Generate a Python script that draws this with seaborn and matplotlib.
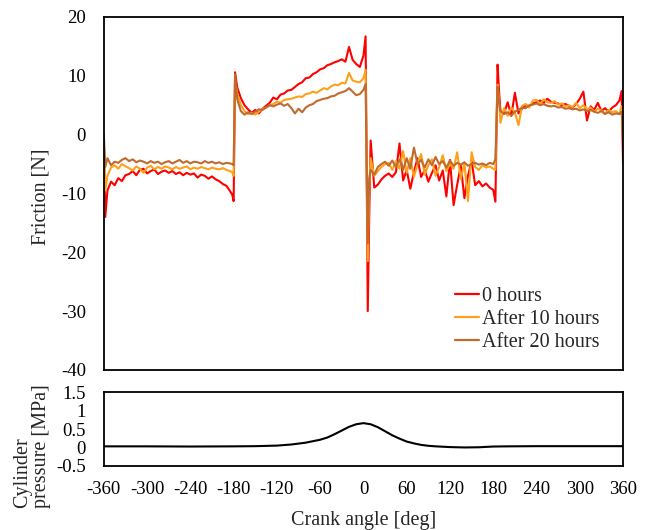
import numpy as np
import pandas as pd
import matplotlib
matplotlib.use("Agg")
import matplotlib.pyplot as plt
import seaborn as sns

# Crank angle samples [deg] (denser around the dead centres)
crank_angle = np.r_[[-360, -358], np.arange(-355, -184, 5), [-182, -180, -178],
                    np.arange(-175, 1, 5), [3, 6, 8], np.arange(10, 181, 5),
                    [183, 186, 188], np.arange(190, 356, 5), [358, 360]]

friction_0h = [
    -1.0, -14.0, -9.5, -8.0, -8.6, -7.4, -7.9, -6.9, -6.7, -6.2, -6.9, -6.0, -5.8, -6.6,
    -6.2, -5.9, -6.7, -6.3, -6.1, -6.5, -6.2, -6.7, -6.4, -6.9, -6.5, -6.8, -6.6, -7.3,
    -6.8, -7.0, -7.5, -7.1, -7.6, -7.9, -8.4, -8.7, -9.6,
    -10.2, -11.3, 10.6,
    8.0, 6.2, 5.0, 4.3, 3.7, 4.2, 3.6, 4.4, 4.9, 5.4, 6.3, 6.0, 6.8, 7.0, 7.5, 7.6, 8.1,
    8.6, 8.9, 9.6, 9.7, 10.3, 10.6, 11.1, 11.3, 11.8, 12.0, 12.3, 12.5, 12.8, 12.4, 14.9,
    12.7, 12.0, 11.5, 13.4,
    16.7, -30.0, -14.0,
    -1.0, -9.0, -8.5, -7.6, -7.0, -6.6, -7.2, -6.4, -1.5, -7.8, -6.0, -9.2, -6.4, -4.0,
    -7.2, -6.0, -8.0, -6.5, -5.2, -7.8, -6.1, -10.5, -4.3, -12.0, -8.5, -5.3, -10.8, -7.0,
    -4.5, -8.6, -7.9, -8.8, -8.3, -9.0, -9.4,
    -11.4, 11.9, 7.5,
    4.0, 3.6, 5.5, 3.2, 7.1, 3.6, 4.4, 5.0, 4.8, 5.3, 5.5, 5.8, 5.4, 6.1, 5.6, 5.4, 5.3,
    5.0, 5.2, 4.9, 4.6, 5.2, 6.1, 7.3, 2.4, 4.8, 4.2, 5.4, 4.0, 4.5, 3.9, 4.6, 5.0, 5.8,
    7.4, -4.8,
]

friction_10h = [
    -1.5, -9.5, -7.0, -5.6, -5.2, -5.8, -5.0, -5.4, -5.7, -6.1, -5.4, -5.8, -6.5, -5.6,
    -5.3, -5.9, -5.5, -5.8, -5.4, -5.6, -5.9, -5.5, -5.8, -5.6, -5.4, -5.9, -5.6, -5.8,
    -5.5, -5.7, -5.9, -5.6, -5.8, -5.9, -5.7, -6.0, -6.2,
    -6.4, -7.0, 9.2,
    7.0, 5.0, 4.0, 3.5, 3.7, 3.4, 3.9, 4.4, 4.6, 5.0, 5.2, 5.6, 5.4, 5.9, 6.0, 6.1, 6.3,
    6.5, 6.4, 6.9, 7.0, 7.3, 7.1, 7.5, 7.9, 7.7, 8.2, 8.5, 8.4, 8.8, 8.7, 10.5, 9.2, 9.0,
    8.9, 9.6,
    11.0, -21.5, -9.0,
    -4.0, -7.0, -6.2, -5.5, -5.0, -4.8, -6.0, -4.5, -5.8, -2.8, -6.5, -4.0, -7.2, -5.0,
    -3.3, -6.8, -5.2, -4.2, -7.0, -5.5, -3.5, -6.2, -5.0, -5.8, -3.0, -7.5, -4.8, -11.3,
    -3.0, -5.5, -6.0, -5.2, -5.6, -5.4, -5.8,
    -6.0, 8.5, 6.0,
    2.0, 4.5, 3.2, 4.6, 3.8, 1.6, 4.9, 5.2, 4.6, 5.8, 5.9, 5.2, 6.0, 5.5, 5.4, 5.7, 5.1,
    5.3, 4.8, 5.0, 4.7, 5.4, 4.5, 5.0, 4.3, 4.6, 3.9, 4.4, 4.1, 3.6, 4.2, 3.8, 4.0, 3.5,
    4.8, -0.5,
]

friction_20h = [
    0.0, -5.5, -4.0, -5.2, -4.6, -4.8, -4.3, -4.0, -4.5, -4.2, -4.7, -4.4, -4.6, -4.9,
    -4.5, -4.8, -4.6, -5.0, -4.7, -4.5, -4.9, -4.6, -4.3, -4.8, -4.5, -4.9, -4.6, -4.7,
    -4.9, -4.5, -4.8, -4.6, -4.9, -4.7, -5.0, -4.8, -4.9,
    -5.0, -5.2, 10.3,
    6.0, 4.0, 3.4, 3.8, 3.5, 3.9, 4.3, 4.2, 4.6, 5.0, 4.8, 5.1, 5.3, 4.9, 5.2, 4.5, 3.6,
    4.4, 3.8, 4.6, 5.0, 5.2, 5.7, 5.9, 6.1, 6.2, 6.5, 6.6, 7.0, 7.2, 7.4, 7.9, 7.3, 6.7,
    6.9, 7.6,
    8.6, -18.5, -7.5,
    -6.0, -6.8, -5.5, -5.0, -4.6, -5.3, -4.4, -5.5, -4.2, -6.0, -4.0, -5.8, -2.2, -5.0,
    -4.3, -5.6, -4.2, -5.2, -3.8, -5.0, -4.5, -5.6, -4.4, -5.3, -4.8, -5.1, -4.7, -5.3,
    -5.0, -4.8, -5.1, -4.9, -5.2, -4.8, -5.0,
    -4.2, 8.2, 5.5,
    4.0, 3.5, 3.8, 3.2, 3.9, 4.2, 4.6, 4.5, 5.0, 5.1, 5.3, 5.0, 5.2, 4.9, 4.8, 4.9, 4.6,
    4.7, 4.4, 4.5, 4.3, 4.4, 4.1, 4.3, 4.0, 4.2, 3.9, 3.7, 4.0, 3.5, 3.8, 3.4, 3.6, 3.5,
    3.9, 0.3,
]

series_labels = ["0 hours", "After 10 hours", "After 20 hours"]
series_colors = ["#FF0000", "#FFA01A", "#C06A2E"]

# Cylinder pressure trace
pressure_angle = [-360, -300, -240, -180, -150, -120, -100, -80, -60, -50, -40, -30, -20,
                  -10, 0, 10, 20, 30, 40, 50, 60, 70, 80, 90, 100, 120, 140, 160, 180,
                  200, 240, 300, 360]
pressure_mpa = [0.03, 0.03, 0.025, 0.03, 0.035, 0.05, 0.08, 0.13, 0.21, 0.27, 0.36, 0.46,
                0.56, 0.63, 0.66, 0.63, 0.55, 0.44, 0.33, 0.24, 0.16, 0.11, 0.07, 0.045,
                0.03, 0.01, 0.0, 0.005, 0.025, 0.03, 0.035, 0.035, 0.035]

friction_df = pd.concat(
    [pd.DataFrame({"angle": crank_angle, "friction": vals, "series": lab})
     for vals, lab in zip([friction_0h, friction_10h, friction_20h], series_labels)],
    ignore_index=True,
)
pressure_df = pd.DataFrame({"angle": pressure_angle, "pressure": pressure_mpa})

sns.set_theme(style="white")
plt.rcParams["font.family"] = ["Liberation Serif", "DejaVu Serif"]
plt.rcParams["axes.unicode_minus"] = False

TICK_FS = 13.5
LABEL_FS = 14.5

fig = plt.figure(figsize=(6.49, 5.30), dpi=100)
ax_f = fig.add_axes([0.160, 0.302, 0.800, 0.666])
ax_p = fig.add_axes([0.160, 0.121, 0.800, 0.139])

sns.lineplot(data=friction_df, x="angle", y="friction", hue="series",
             hue_order=series_labels, palette=series_colors, sort=False,
             estimator=None, linewidth=1.5, ax=ax_f)
sns.lineplot(data=pressure_df, x="angle", y="pressure", color="black",
             linewidth=1.5, ax=ax_p)

xticks = np.arange(-360, 361, 60)
for ax in (ax_f, ax_p):
    ax.set_xlim(-360, 360)
    ax.set_xticks(xticks)
    for side in ax.spines.values():
        side.set_color("black")
        side.set_linewidth(1.3)
    ax.tick_params(direction="in", length=5, width=1.0, colors="black",
                   labelsize=TICK_FS)
    ax.tick_params(axis="y", pad=13)
    ax.grid(False)

ax_f.set_ylim(-40, 20)
ax_f.set_yticks(np.arange(-40, 21, 10))
ax_f.set_xticklabels([])
ax_f.set_xlabel("")
ax_f.set_ylabel("Friction [N]", fontsize=LABEL_FS)
ax_f.yaxis.set_label_coords(-0.102, 0.49)

ax_p.set_ylim(-0.5, 1.5)
ax_p.set_yticks([-0.5, 0, 0.5, 1, 1.5])
ax_p.set_yticklabels(["-0.5", "0", "0.5", "1", "1.5"])
ax_p.set_xticklabels([str(v) for v in xticks])
ax_p.tick_params(axis="x", pad=11)
ax_p.set_xlabel("Crank angle [deg]", fontsize=LABEL_FS, labelpad=9)
ax_p.set_ylabel("")
fig.text(0.049, 0.158, "Cylinder\npressure [MPa]", rotation=90, ha="center",
         va="center", multialignment="left", fontsize=LABEL_FS, linespacing=1.0)

leg = ax_f.legend(loc="lower left", bbox_to_anchor=(0.66, 0.028), frameon=False,
                  fontsize=LABEL_FS, handlelength=1.2, handletextpad=0.15,
                  labelspacing=0.2, borderaxespad=0)
for line in leg.get_lines():
    line.set_linewidth(1.6)

fig.savefig("out.png", dpi=100)
